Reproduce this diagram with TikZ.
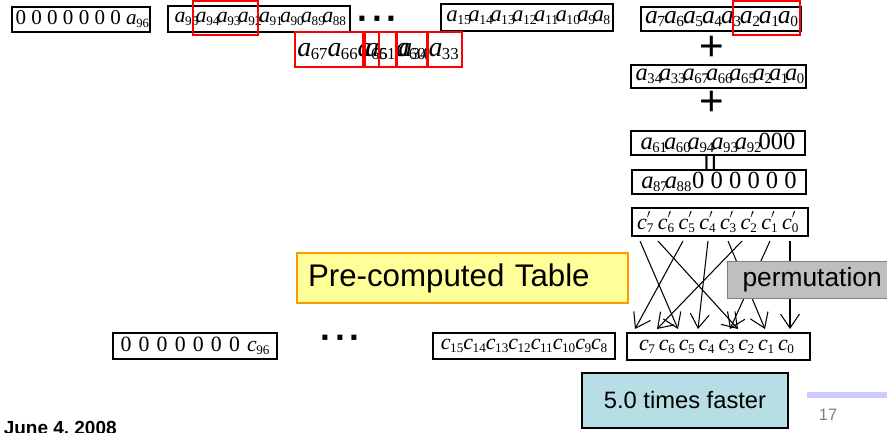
\documentclass[tikz,border=0pt]{standalone}
\usepackage{fontspec}
\setmainfont{Liberation Serif}
\setsansfont{Liberation Sans}
\usetikzlibrary{arrows.meta,calc}
\definecolor{HiClr}{rgb}{1,0,0}
\definecolor{TableClr}{rgb}{1,1,0.6}
\definecolor{TableLine}{rgb}{1,0.6,0}
\definecolor{PermClr}{rgb}{0.75,0.75,0.75}
\definecolor{FastClr}{rgb}{0.72,0.87,0.9}
\definecolor{BarClr}{rgb}{0.8,0.8,1}
\newcommand\vk{-.12em}
\newcommand\sv[2]{\textit{#1}\kern-.02em\raisebox{-.3ex}{\scalebox{.6}{#2}}\kern\vk}
\newcommand\cpr[1]{\textit{c}\rlap{\raisebox{1.1ex}{\scalebox{.6}{$\prime$}}}\raisebox{-.3ex}{\scalebox{.6}{#1}}\kern\vk}
\newcommand\px[1]{\fontsize{#1}{#1}\selectfont}
\newcommand\dotrow{·\kern.08em·\kern.08em·}

\begin{document}
\begin{tikzpicture}[x=0.02cm,y=-0.02cm,
  word/.style={draw,line width=.7pt,inner sep=0pt},
  hl/.style={draw=HiClr,line width=1.4pt},
  perm/.style={-{Straight Barb[length=2.8mm,width=3.8mm]},line width=.6pt}]
\useasboundingbox (0,0) rectangle (887,433);

% input words
\node[word,minimum width=2.76cm,minimum height=.5cm,font=\px{12}] (w96) at (81,19.5) {0 0 0 0 0 0 0 \sv{a}{96}};
\node[word,minimum width=3.64cm,minimum height=.52cm,font=\px{12.5}] (w88) at (259,19) {\sv{a}{95}\sv{a}{94}\sv{a}{93}\sv{a}{92}\sv{a}{91}\sv{a}{90}\sv{a}{89}\sv{a}{88}};
\node[font=\sffamily\bfseries\px{20}] (dotA) at (378,23) {\dotrow};
\node[word,minimum width=3.44cm,minimum height=.54cm,font=\px{13}] (w8) at (527,17.5) {\sv{a}{15}\sv{a}{14}\sv{a}{13}\sv{a}{12}\sv{a}{11}\sv{a}{10}\sv{a}{9}\sv{a}{8}};
\draw[hl] (193,1) rectangle (258,35);

% picked bits
\begin{scope}[every node/.style={anchor=base west,inner sep=0pt,font=\px{15.9}\def\vk{0em}}]
\node (m67) at (297,56) {\sv{a}{67}\sv{a}{66}\sv{a}{65}};
\node (m61) at (365,56) {\sv{a}{61}\sv{a}{60}};
\node (m34) at (398,56) {\sv{a}{34}\sv{a}{33}};
\end{scope}
\draw[hl] (295,32) rectangle (365,67);
\draw[hl] (363,32) rectangle (379,67);
\draw[hl] (379,32) rectangle (397,67);
\draw[hl] (396,32) rectangle (428,67);
\draw[hl] (427,32) rectangle (462,67);

% table sum
\node[word,minimum width=3.2cm,minimum height=.48cm,font=\px{14.6}\def\vk{-.04em}] (w0) at (721,19) {\sv{a}{7}\sv{a}{6}\sv{a}{5}\sv{a}{4}\sv{a}{3}\sv{a}{2}\sv{a}{1}\sv{a}{0}};
\draw[hl] (733,1) rectangle (800,35);
\node[font=\sffamily\px{24}] (plusA) at (712,48) {+};
\node[word,minimum width=3.5cm,minimum height=.46cm,font=\px{13.9}] (t1) at (718.5,76.5) {\sv{a}{34}\sv{a}{33}\sv{a}{67}\sv{a}{66}\sv{a}{65}\sv{a}{2}\sv{a}{1}\sv{a}{0}};
\node[font=\sffamily\px{24}] (plusB) at (712,103) {+};
\node[word,minimum width=3.48cm,minimum height=.48cm,font=\px{14}] (t2) at (718,143) {\sv{a}{61}\sv{a}{60}\sv{a}{94}\sv{a}{93}\sv{a}{92}000};
\node[font=\sffamily\px{17}] (eq) at (713,163) {\rotatebox{90}{=}};
\node[word,minimum width=3.48cm,minimum height=.48cm,font=\px{14}] (t3) at (719,182) {\sv{a}{87}\sv{a}{88}\kern.15em 0 0 0 0 0 0};
\node[word,minimum width=3.52cm,minimum height=.56cm,font=\px{12.5}\def\vk{.2em}] (cp) at (720,222) {\cpr{7}\cpr{6}\cpr{5}\cpr{4}\cpr{3}\cpr{2}\cpr{1}\cpr{0}};

% permutation wires
\foreach \i/\xs/\xt in {7/640/678,6/658/738,5/683/635,4/708/698,3/728/765,2/742/657,1/770/730,0/790/790}{
  \coordinate (s\i) at (\xs,241);
  \coordinate (t\i) at (\xt,329);
}
\foreach \i in {0,...,7}
  \draw[perm] (s\i) -- (t\i);

\node[fill=PermClr,draw=gray,line width=.6pt,anchor=west,minimum width=3.6cm,minimum height=.6cm,text width=3cm,inner xsep=.3cm,align=left,font=\sffamily\px{15}] (perm) at (727,280) {permutation};
\node[draw=TableLine,fill=TableClr,line width=1.3pt,minimum width=6.62cm,minimum height=1cm,text width=6.18cm,inner xsep=.22cm,align=left,font=\sffamily\px{17.8}] (tab) at (462.5,278) {Pre-computed Table};

% output words
\node[word,minimum width=3.28cm,minimum height=.52cm,font={\px{12.4}\spaceskip=.33em\relax\def\vk{0em}}] (c96) at (195,346) {0 0 0 0 0 0 0 \sv{c}{96}};
\node[font=\sffamily\bfseries\px{20}] (dotB) at (341,342) {\dotrow};
\node[word,minimum width=3.64cm,minimum height=.52cm,font=\px{12.5}\def\vk{0em}] (c8) at (524,346) {\sv{c}{15}\sv{c}{14}\sv{c}{13}\sv{c}{12}\sv{c}{11}\sv{c}{10}\sv{c}{9}\sv{c}{8}};
\node[word,minimum width=3.66cm,minimum height=.54cm,font=\px{12.5}\def\vk{.18em}] (c0) at (718.5,346.5) {\sv{c}{7}\sv{c}{6}\sv{c}{5}\sv{c}{4}\sv{c}{3}\sv{c}{2}\sv{c}{1}\sv{c}{0}};

\node[draw,fill=FastClr,line width=.6pt,minimum width=4.12cm,minimum height=1.1cm,font=\sffamily\px{13.5}] (fast) at (685,400.5) {5.0 times faster};

% slide footer
\fill[BarClr] (807,392) rectangle (887,398);
\node[text=gray,font=\sffamily\px{9.4}] (pg) at (828,415) {17};
\node[anchor=base east,inner sep=0pt,font=\sffamily\bfseries\px{10.8}] (date) at (117,434) {June 4, 2008};
\end{tikzpicture}
\end{document}
